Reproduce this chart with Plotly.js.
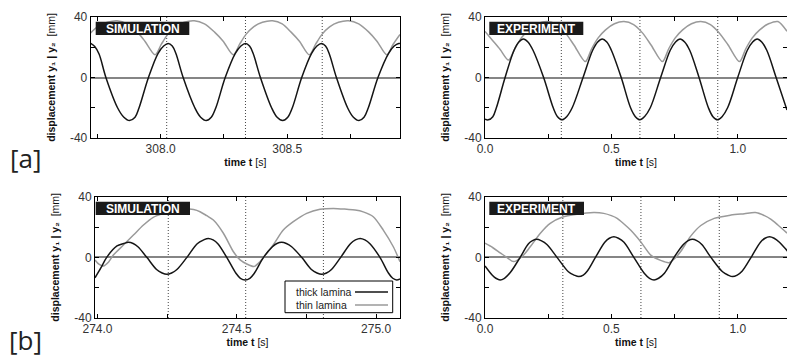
<!DOCTYPE html>
<html>
<head>
<meta charset="utf-8">
<script src="https://cdn.plot.ly/plotly-3.0.1.min.js"></script>
<style>html,body{margin:0;padding:0;background:#fff;}#chart{width:787px;height:360px;}</style>
</head>
<body>
<div id="chart"></div>
<script>
// ---------- DATA ----------
// [a] SIMULATION (time in s, displacement in mm)
const aSimThickT = [307.724,307.74,307.757,307.784,307.83,307.855,307.877,307.899,307.915,307.952,307.99,308.012,308.03,308.046,308.06,308.089,308.135,308.158,308.18,308.2,308.218,308.255,308.295,308.317,308.335,308.351,308.365,308.394,308.438,308.46,308.482,308.502,308.52,308.557,308.596,308.617,308.635,308.651,308.665,308.694,308.738,308.761,308.783,308.803,308.82,308.858,308.9,308.922,308.94,308.945];
const aSimThickY = [22.5,20.5,15.5,0,-20,-26.3,-28.5,-26.3,-20,0,16,20.8,22.5,20.8,16,0,-20,-26.3,-28.5,-26.3,-20,0,16,20.8,22.5,20.8,16,0,-20,-26.3,-28.5,-26.3,-20,0,16,20.8,22.5,20.8,16,0,-20,-26.3,-28.5,-26.3,-20,0,16,20.8,22.5,22.4];
const aSimThinT = [307.724,307.75,307.79,307.828,307.868,307.908,307.938,307.978,308.003,308.028,308.058,308.093,308.133,308.173,308.213,308.247,308.287,308.312,308.337,308.367,308.402,308.442,308.48,308.515,308.548,308.587,308.612,308.637,308.667,308.702,308.742,308.782,308.822,308.854,308.893,308.918,308.945];
const aSimThinY = [29.5,33.5,36.5,37.5,35.5,30,24,15,22,28.5,33.5,36.5,37.5,35.5,30,24,15,22,28.5,33.5,36.5,37.5,35.5,30,24,15,22,28.5,33.5,36.5,37.5,35.5,30,24,15,22,28.5];
// [a] EXPERIMENT
const aExpThickT = [0,0.013,0.031,0.045,0.0795,0.115,0.134,0.152,0.17,0.19,0.232,0.27,0.287,0.305,0.323,0.345,0.388,0.426,0.446,0.464,0.482,0.5,0.539,0.576,0.595,0.613,0.631,0.654,0.695,0.733,0.754,0.772,0.79,0.81,0.847,0.884,0.902,0.92,0.938,0.96,1.0,1.038,1.059,1.077,1.095,1.115,1.152,1.195];
const aExpThickY = [-27.5,-28,-25.9,-20,0,18,23.5,25.5,23.5,18,0,-20,-25.9,-28,-25.9,-20,0,18,23.5,25.5,23.5,18,0,-20,-25.9,-28,-25.9,-20,0,18,23.5,25.5,23.5,18,0,-20,-25.9,-28,-25.9,-20,0,18,23.5,25.5,23.5,18,0,-21.5];
const aExpThinT = [0,0.03,0.06,0.093,0.118,0.143,0.173,0.208,0.245,0.283,0.318,0.352,0.397,0.422,0.447,0.477,0.512,0.55,0.588,0.623,0.657,0.702,0.727,0.752,0.782,0.817,0.854,0.892,0.927,0.962,1.007,1.032,1.057,1.087,1.122,1.159,1.195];
const aExpThinY = [30.5,24.5,18.5,11.5,19,26,31.5,35.5,37,35,29.5,21.5,10.5,19,26,31.5,35.5,37,35,29.5,21.5,10.5,19,26,31.5,35.5,37,35,29.5,21.5,10.5,19,26,31.5,35.5,37,30.5];
// [b] SIMULATION
const bSimThickT = [273.991,274.012,274.033,274.07,274.094,274.111,274.128,274.145,274.177,274.212,274.232,274.249,274.266,274.285,274.321,274.358,274.381,274.398,274.415,274.432,274.464,274.497,274.513,274.53,274.547,274.563,274.596,274.628,274.644,274.661,274.678,274.697,274.733,274.768,274.788,274.805,274.822,274.84,274.873,274.908,274.926,274.943,274.96,274.978,275.014,275.045,275.06,275.074,275.086];
const bSimThickY = [-13.5,-7,0,7.5,9.1,9.9,9.1,7,0,-8,-10.3,-11.2,-10.3,-8,0,9,11.5,12.5,11.5,9,0,-10.5,-13.8,-14.9,-13.8,-10.5,0,7,9.1,9.9,9.1,7,0,-8,-10.3,-11.2,-10.3,-8,0,9,11.5,12.5,11.5,9,0,-10.5,-13.8,-14.9,-14.3];
const bSimThinT = [273.991,274.005,274.021,274.04,274.057,274.093,274.129,274.165,274.2,274.237,274.27,274.31,274.345,274.368,274.392,274.416,274.452,274.488,274.512,274.536,274.562,274.58,274.596,274.632,274.667,274.703,274.751,274.799,274.847,274.895,274.925,274.954,274.99,275.026,275.062,275.086];
const bSimThinY = [-1.7,-4.5,-5.7,-3,1.5,8.1,14.7,21.3,26.4,29,31,32,31.5,30.1,27.5,24.6,15.9,3.7,-1.7,-4.4,-6,-3.5,0,8.5,18,23.5,29,31.7,32.3,31.7,31.2,30,26.8,18,7,-2.9];
// [b] EXPERIMENT
const bExpThickT = [0,0.03,0.043,0.06,0.077,0.1,0.139,0.172,0.188,0.205,0.222,0.245,0.285,0.33,0.353,0.371,0.389,0.405,0.437,0.474,0.492,0.51,0.528,0.55,0.589,0.63,0.651,0.669,0.687,0.71,0.748,0.785,0.804,0.821,0.838,0.858,0.894,0.94,0.962,0.98,0.998,1.018,1.053,1.09,1.108,1.126,1.144,1.165,1.199];
const bExpThickY = [-5.7,-12,-13.8,-14.9,-13.8,-10,0,9,11,11.9,11,8.5,0,-9.5,-11.7,-12.7,-11.7,-9,0,10,12.6,13.6,12.6,10,0,-10.5,-13.8,-14.9,-13.8,-10.5,0,8.5,11,11.9,11,8.5,0,-9.5,-11.7,-12.7,-11.7,-9,0,10,12.6,13.6,12.6,10,3.7];
const bExpThinT = [0,0.03,0.06,0.09,0.113,0.146,0.179,0.219,0.258,0.305,0.364,0.43,0.47,0.5,0.523,0.55,0.576,0.616,0.656,0.695,0.728,0.755,0.775,0.814,0.854,0.907,0.973,1.026,1.07,1.106,1.132,1.159,1.195];
const bExpThinY = [9.3,6.5,3,-0.5,-2.8,0.4,7,15.9,22.4,26.4,28.4,29.5,29,27.5,25.7,22,18,10.3,1.5,-2,-3.5,0,4,14,21,25.7,27.9,28.8,29.5,27.5,25,21.3,16];

// dotted marker times
const aSimMarks = [308.024, 308.335, 308.638];
const aExpMarks = [0.302, 0.613, 0.921];
const bSimMarks = [274.254, 274.532, 274.811];
const bExpMarks = [0.308, 0.617, 0.927];

// ranges
const aSimRange = [307.724, 308.945];
const bSimRange = [273.991, 275.086];
const expRange = [0, 1.195];
const yRange = [-40, 40];

// ticks (labelled + unlabelled minor)
const aSimTicks = [308.0, 308.5], aSimTickText = ['308.0', '308.5'], aSimMinor = [307.75, 308.25, 308.75];
const bSimTicks = [274.0, 274.5, 275.0], bSimTickText = ['274.0', '274.5', '275.0'], bSimMinor = [274.25, 274.75];
const expTicks = [0, 0.5, 1.0], expTickText = ['0.0', '0.5', '1.0'], expMinor = [0.25, 0.75];
const yTicks = [-40, 0, 40], yTickText = ['-40', '0', '40'], yMinor = [-20, 20];

const seriesNames = ['thick lamina', 'thin lamina'];
const panelTags = ['SIMULATION', 'EXPERIMENT'];
const rowLabels = ['[a]', '[b]'];
const xTitle = '<b>time t</b> [s]';
const yTitle = '<b>displacement y\u2081 | y\u2082</b>\u00a0 [mm]';

// ---------- STYLE ----------
const W = 787, H = 360;
const thickColor = '#151515', thinColor = '#9a9a9a';
const fontFam = 'Liberation Sans, Arial, Helvetica, sans-serif';
const px = v => v / W, py = v => 1 - v / H;

const panels = [
  {xa:'x',  ya:'y',  thick:[aSimThickT,aSimThickY], thin:[aSimThinT,aSimThinY], marks:aSimMarks},
  {xa:'x2', ya:'y2', thick:[aExpThickT,aExpThickY], thin:[aExpThinT,aExpThinY], marks:aExpMarks},
  {xa:'x3', ya:'y3', thick:[bSimThickT,bSimThickY], thin:[bSimThinT,bSimThinY], marks:bSimMarks},
  {xa:'x4', ya:'y4', thick:[bExpThickT,bExpThickY], thin:[bExpThinT,bExpThinY], marks:bExpMarks}
];

const traces = [];
panels.forEach(p => {
  traces.push({x:p.thin[0], y:p.thin[1], xaxis:p.xa, yaxis:p.ya, mode:'lines', name:seriesNames[1],
    line:{color:thinColor, width:1.5, shape:'spline', smoothing:0.8}, showlegend:false, hoverinfo:'skip'});
  traces.push({x:p.thick[0], y:p.thick[1], xaxis:p.xa, yaxis:p.ya, mode:'lines', name:seriesNames[0],
    line:{color:thickColor, width:1.5, shape:'spline', smoothing:1}, showlegend:false, hoverinfo:'skip'});
});

const minorCfg = v => ({tickvals:v, ticks:'inside', ticklen:4, tickcolor:'#000', tickwidth:1, showgrid:false});
function xAxis(domain, range, tv, tt, mv, anchor) {
  return {domain, range, anchor, tickvals:tv, ticktext:tt, minor:minorCfg(mv), ticks:'inside', ticklen:4, tickcolor:'#000',
    showline:true, linecolor:'#000', linewidth:1, mirror:'ticks', showgrid:false, zeroline:false,
    tickfont:{family:fontFam, size:12, color:'#333'},
    title:{text:xTitle, font:{family:fontFam, size:10.5, color:'#111'}, standoff:3}};
}
function yAxis(domain, anchor) {
  return {domain, range:yRange, anchor, tickvals:yTicks, ticktext:yTickText, minor:minorCfg(yMinor), ticks:'inside', ticklen:4, tickcolor:'#000',
    showline:true, linecolor:'#000', linewidth:1, mirror:'ticks', showgrid:false,
    zeroline:true, zerolinecolor:'#858585', zerolinewidth:2,
    tickfont:{family:fontFam, size:12, color:'#333'},
    title:{text:yTitle, font:{family:fontFam, size:10.5, color:'#111'}, standoff:12}};
}

const topY = [py(138), py(17)], botY = [py(318), py(196.7)];
const layout = {
  width:W, height:H, autosize:false, margin:{l:0,r:0,t:0,b:0},
  paper_bgcolor:'#fff', plot_bgcolor:'#fff', showlegend:false,
  xaxis:  xAxis([px(90.7), px(400)], aSimRange, aSimTicks, aSimTickText, aSimMinor, 'y'),
  yaxis:  yAxis(topY, 'x'),
  xaxis2: xAxis([px(485), 1], expRange, expTicks, expTickText, expMinor, 'y2'),
  yaxis2: yAxis(topY, 'x2'),
  xaxis3: xAxis([px(95), px(400)], bSimRange, bSimTicks, bSimTickText, bSimMinor, 'y3'),
  yaxis3: yAxis(botY, 'x3'),
  xaxis4: xAxis([px(485), 1], expRange, expTicks, expTickText, expMinor, 'y4'),
  yaxis4: yAxis(botY, 'x4'),
  shapes:[], annotations:[]
};

// dotted marker lines
panels.forEach(p => {
  p.marks.forEach(t => layout.shapes.push({type:'line', xref:p.xa, yref:p.ya + ' domain', x0:t, x1:t, y0:0, y1:1,
    line:{color:'#444', width:1, dash:'1px,2px'}, layer:'below'}));
});

// tag boxes
const tagBoxes = [
  {x0:95.7, x1:189.3, y0:21.7, y1:35, text:panelTags[0]},
  {x0:489.3, x1:583.3, y0:21.7, y1:35, text:panelTags[1]},
  {x0:95.7, x1:190, y0:201.7, y1:215, text:panelTags[0]},
  {x0:489.3, x1:584, y0:201.7, y1:215, text:panelTags[1]}
];
tagBoxes.forEach(b => {
  layout.shapes.push({type:'rect', xref:'paper', yref:'paper', x0:px(b.x0), x1:px(b.x1), y0:py(b.y1), y1:py(b.y0),
    fillcolor:'#1a1a1a', line:{width:0}, layer:'above'});
  layout.annotations.push({xref:'paper', yref:'paper', x:px((b.x0+b.x1)/2), y:py((b.y0+b.y1)/2 + 0.5), xanchor:'center', yanchor:'middle',
    text:'<b>'+b.text+'</b>', showarrow:false, font:{family:fontFam, size:12, color:'#fff'}});
});

// legend (text then line sample)
layout.shapes.push({type:'rect', xref:'paper', yref:'paper', x0:px(285), x1:px(392.7), y0:py(312.7), y1:py(281),
  fillcolor:'#fff', line:{color:'#000', width:1}, layer:'above'});
[[seriesNames[0], 292, thickColor], [seriesNames[1], 305, thinColor]].forEach(([name, yy, col]) => {
  layout.annotations.push({xref:'paper', yref:'paper', x:px(294), y:py(yy), xanchor:'left', yanchor:'middle',
    text:name, showarrow:false, font:{family:fontFam, size:10.5, color:'#222'}});
  layout.shapes.push({type:'line', xref:'paper', yref:'paper', x0:px(355), x1:px(388), y0:py(yy), y1:py(yy),
    line:{color:col, width:1.5}, layer:'above'});
});

// row labels
[[rowLabels[0], 158], [rowLabels[1], 340]].forEach(([t, yy]) => {
  layout.annotations.push({xref:'paper', yref:'paper', x:px(25), y:py(yy), xanchor:'center', yanchor:'middle',
    text:t, showarrow:false, font:{family:'Open Sans, DejaVu Sans, sans-serif', size:26, color:'#222'}});
});

Plotly.newPlot('chart', traces, layout, {staticPlot:true, displayModeBar:false});
</script>
</body>
</html>
